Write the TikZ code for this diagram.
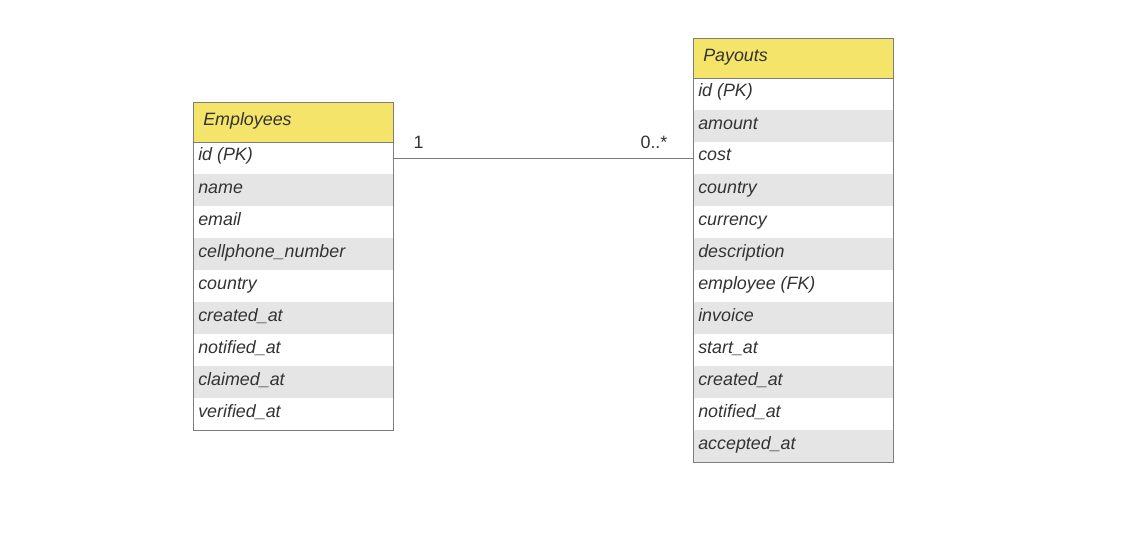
\documentclass[tikz,border=0pt]{standalone}
\usepackage{fontspec}
\setmainfont{Liberation Sans}
\definecolor{hdr}{RGB}{245,228,106}
\definecolor{rowgray}{RGB}{229,229,229}
\definecolor{bord}{RGB}{125,125,125}
\definecolor{txt}{RGB}{51,51,51}
\begin{document}
\begin{tikzpicture}[x=0.75pt,y=-0.75pt,
  rowbox/.style={rectangle,draw=none,inner sep=0pt,minimum width=150pt,minimum height=24pt,anchor=north west},
  hdrbox/.style={rectangle,draw=bord,line width=1.05pt,fill=hdr,inner sep=0pt,minimum width=150pt,minimum height=30pt,anchor=north west},
  ftext/.style={inner sep=0pt,anchor=base west,text=txt,font=\fontsize{13.4}{16}\selectfont\itshape},
  lbl/.style={inner sep=0pt,anchor=base,text=txt,font=\fontsize{13.4}{16}\selectfont},
  conn/.style={draw=bord,line width=1.05pt}]
\useasboundingbox (0,0) rectangle (1122,535);
% Employees
\foreach \t [count=\i from 0] in {id (PK),name,email,cellphone\_number,country,created\_at,notified\_at,claimed\_at,verified\_at}{
  \pgfmathtruncatemacro{\odd}{mod(\i,2)}
  \ifnum\odd=1
    \node[rowbox,fill=rowgray] (e\i) at (193,142+32*\i) {};
  \else
    \node[rowbox,fill=white] (e\i) at (193,142+32*\i) {};
  \fi
  \node[ftext] (et\i) at (198,161+32*\i) {\t};
}
\node[rectangle,draw=bord,line width=1.05pt,inner sep=0pt,minimum width=150pt,minimum height=246pt,anchor=north west] (emp) at (193,102) {};
\node[hdrbox] (emph) at (193,102) {};
\node[ftext] (empt) at (203,125.5) {Employees};
% Payouts
\foreach \t [count=\i from 0] in {id (PK),amount,cost,country,currency,description,employee (FK),invoice,start\_at,created\_at,notified\_at,accepted\_at}{
  \pgfmathtruncatemacro{\odd}{mod(\i,2)}
  \ifnum\odd=1
    \node[rowbox,fill=rowgray] (p\i) at (693,78+32*\i) {};
  \else
    \node[rowbox,fill=white] (p\i) at (693,78+32*\i) {};
  \fi
  \node[ftext] (pt\i) at (698,97+32*\i) {\t};
}
\node[rectangle,draw=bord,line width=1.05pt,inner sep=0pt,minimum width=150pt,minimum height=318pt,anchor=north west] (pay) at (693,38) {};
\node[hdrbox] (payh) at (693,38) {};
\node[ftext] (payt) at (703,61.5) {Payouts};
% connector
\draw[conn] (e0.east) -- (p2.west);
\node[lbl] (l1) at (418.5,148) {1};
\node[lbl] (l2) at (654,148) {0..*};
\end{tikzpicture}
\end{document}
